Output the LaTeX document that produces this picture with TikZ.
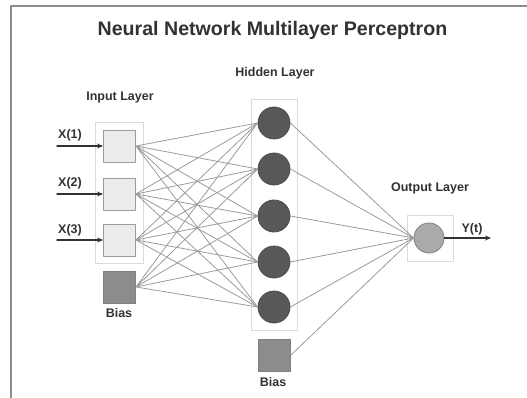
\documentclass[tikz,border=0pt]{standalone}
\usepackage{fontspec}
\setmainfont{Liberation Sans}
\usetikzlibrary{arrows.meta}
\definecolor{framegray}{RGB}{140,140,140}
\definecolor{txtgray}{RGB}{50,50,50}
\definecolor{linkgray}{RGB}{155,155,155}
\definecolor{groupgray}{RGB}{218,218,218}
\definecolor{infill}{RGB}{236,236,236}
\definecolor{biasfill}{RGB}{140,140,140}
\definecolor{hidfill}{RGB}{88,88,88}
\definecolor{outfill}{RGB}{170,170,170}
\tikzset{
    lab/.style={
        font=\fontsize{12.5}{15}\selectfont\bfseries, text=txtgray, inner sep=0pt
    }
}

\begin{document}
\begin{tikzpicture}[x=1pt,y=-1pt, line cap=round, line join=round]

\tikzset{
  frame/.style={draw=framegray, line width=2.2pt, line cap=butt},
  group/.style={draw=groupgray, line width=0.8pt, inner sep=0pt},
  inbox/.style={rectangle, draw=linkgray, fill=infill, line width=0.9pt, minimum size=32pt, inner sep=0pt},
  biasbox/.style={rectangle, draw=gray, fill=biasfill, line width=0.9pt, minimum size=32pt, inner sep=0pt},
  hid/.style={circle, draw=hidfill!85!black, fill=hidfill, line width=0.8pt, minimum size=32pt, inner sep=0pt},
  outc/.style={circle, draw=gray, fill=outfill, line width=0.8pt, minimum size=30pt, inner sep=0pt},
  link/.style={draw=linkgray, line width=0.8pt},
  feed/.style={draw=txtgray, line width=1.4pt, -{Stealth[length=6pt,width=5pt]}},
}

\useasboundingbox (0,0) rectangle (527,398);

% frame (only top and left edges are visible)
\draw[frame] (11,398) -- (11,6) -- (527,6);

% title
\node[font=\fontsize{19.6}{23}\selectfont\bfseries, text=txtgray, inner sep=0pt] (title) at (272.5,30) {Neural Network Multilayer Perceptron};

% group boxes
\node[group, minimum width=48pt, minimum height=141pt] (ingroup) at (119,192.5) {};
\node[group, minimum width=46pt, minimum height=231pt] (hidgroup) at (274,214.5) {};
\node[group, minimum width=46pt, minimum height=46pt] (outgroup) at (430,238) {};

% input layer
\node[inbox] (i1) at (119.5,146) {};
\node[inbox] (i2) at (119.5,194) {};
\node[inbox] (i3) at (119.5,240) {};
\node[biasbox] (ib) at (119.5,287) {};

% hidden layer
\node[hid] (h1) at (274,123) {};
\node[hid] (h2) at (274,169) {};
\node[hid] (h3) at (274,216) {};
\node[hid] (h4) at (274,262) {};
\node[hid] (h5) at (274,307) {};
\node[biasbox] (hb) at (274.5,355) {};

% output layer
\node[outc] (o) at (429,238) {};
\coordinate (yend) at (491,238);

% free ends of the input arrows
\coordinate (x1) at (57,146);
\coordinate (x2) at (57,194);
\coordinate (x3) at (57,240);

% input -> hidden
\draw[link] (i1.east) -- (h1.west) (i1.east) -- (h2.west) (i1.east) -- (h3.west) (i1.east) -- (h4.west) (i1.east) -- (h5.west);
\draw[link] (i2.east) -- (h1.west) (i2.east) -- (h2.west) (i2.east) -- (h3.west) (i2.east) -- (h4.west) (i2.east) -- (h5.west);
\draw[link] (i3.east) -- (h1.west) (i3.east) -- (h2.west) (i3.east) -- (h3.west) (i3.east) -- (h4.west) (i3.east) -- (h5.west);
\draw[link] (ib.east) -- (h1.west) (ib.east) -- (h2.west) (ib.east) -- (h3.west) (ib.east) -- (h4.west) (ib.east) -- (h5.west);

% hidden -> output
\draw[link] (h1.east) -- (o.west) (h2.east) -- (o.west) (h3.east) -- (o.west) (h4.east) -- (o.west) (h5.east) -- (o.west);
\draw[link] (hb.east) -- (o.west);

% inputs and output
\draw[feed] (x1) -- (i1.west);
\draw[feed] (x2) -- (i2.west);
\draw[feed] (x3) -- (i3.west);
\draw[feed] (o.east) -- (yend);

% labels
\node[lab] (lin) at (120,97) {Input Layer};
\node[lab] (lhid) at (275,73) {Hidden Layer};
\node[lab] (lout) at (430,188) {Output Layer};
\node[lab] (lx1) at (70,135) {X(1)};
\node[lab] (lx2) at (70,183) {X(2)};
\node[lab] (lx3) at (70,230) {X(3)};
\node[lab] (ly) at (472,229) {Y(t)};
\node[lab] (lib) at (119,313) {Bias};
\node[lab] (lhb) at (273,382) {Bias};

\end{tikzpicture}
\end{document}
